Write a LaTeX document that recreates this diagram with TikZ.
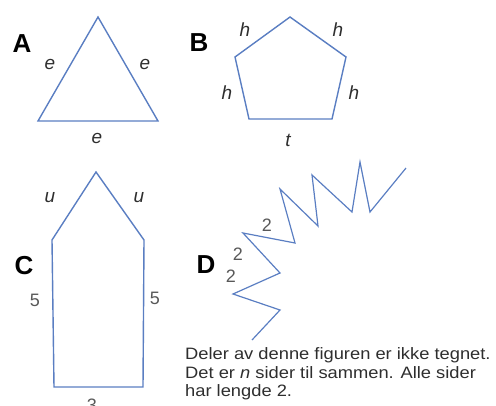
\documentclass[tikz,border=0pt]{standalone}
\usepackage{fontspec}
\setmainfont{Liberation Sans}
\definecolor{lineblue}{HTML}{5A7EC2}
\definecolor{txt}{HTML}{2E2E2E}
\tikzset{
  shape line/.style={draw=lineblue, line width=1.4pt, line join=miter},
  biglabel/.style={font=\fontsize{26}{26}\selectfont\bfseries, text=black, inner sep=0pt},
  sidelabel/.style={font=\fontsize{19}{19}\selectfont\itshape, text=txt, inner sep=0pt},
  numlabel/.style={font=\fontsize{18}{18}\selectfont, text=txt!80, inner sep=0pt},
  notetext/.style={font=\fontsize{16.5}{16.5}\selectfont, text=txt, inner sep=0pt, anchor=base west}
}
\begin{document}
\begin{tikzpicture}[x=1pt, y=-1pt]
\useasboundingbox (0,0) rectangle (496,405);
% A
\node[biglabel] (lA) at (22,44) {A};
\draw[shape line] (98,17) -- (38,121) -- (158,121) -- cycle;
\node[sidelabel] (eA1) at (50,64) {e};
\node[sidelabel] (eA2) at (145,64) {e};
\node[sidelabel] (eA3) at (97,138) {e};
% B
\node[biglabel] (lB) at (199,43) {B};
\draw[shape line] (290,17) -- (346,57) -- (332,119) -- (249,119) -- (235,57) -- cycle;
\node[sidelabel] (hB1) at (245,30) {h};
\node[sidelabel] (hB2) at (338,30) {h};
\node[sidelabel] (hB3) at (227,93) {h};
\node[sidelabel] (hB4) at (354,93) {h};
\node[sidelabel] (tB) at (288,140) {t};
% C
\node[biglabel] (lC) at (24,266) {C};
\draw[shape line] (96,172) -- (144,240) -- (143,387) -- (54,387) -- (52,240) -- cycle;
\node[sidelabel] (uC1) at (50,198) {u};
\node[sidelabel] (uC2) at (139,198) {u};
\node[numlabel] (fC1) at (35,300) {5};
\node[numlabel] (fC2) at (155,298) {5};
\node[numlabel] (tC) at (92,405) {3};
% D
\node[biglabel] (lD) at (206,265) {D};
\draw[draw=lineblue, line width=1.2pt, line join=miter]
  (252,340) -- (280,310) -- (233,294) -- (280,273) -- (243,233) -- (295,243)
  -- (280,189) -- (318,226) -- (312,175) -- (352,212) -- (360,162)
  -- (370,212) -- (406,168);
\node[numlabel] (d1) at (267,225) {2};
\node[numlabel] (d2) at (238,254) {2};
\node[numlabel] (d3) at (231,276) {2};
% note
\node[notetext] (n1) at (185,359.5) {\scalebox{1.11}[1]{Deler av denne figuren er ikke tegnet.}};
\node[notetext] (n2) at (185,378) {\scalebox{1.11}[1]{Det er \textit{n} sider til sammen. Alle sider}};
\node[notetext] (n3) at (185,396.5) {\scalebox{1.11}[1]{har lengde 2.}};
\end{tikzpicture}
\end{document}
